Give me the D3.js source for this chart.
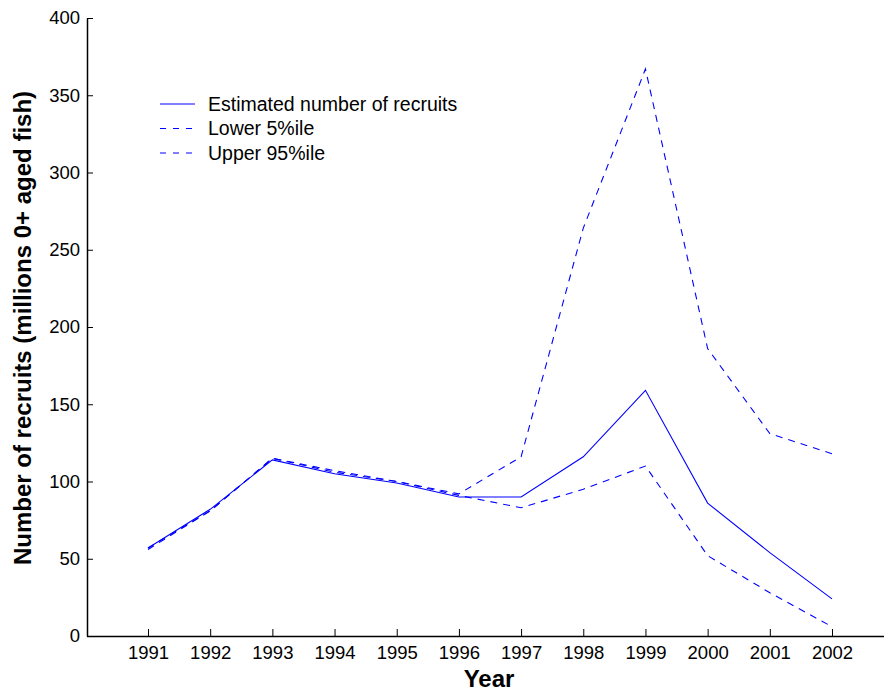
<!DOCTYPE html>
<html>
<head>
<meta charset="utf-8">
<script src="https://cdn.jsdelivr.net/npm/d3@7"></script>
<style>
  html, body { margin: 0; padding: 0; background: #fff; }
  svg { display: block; font-family: "Liberation Sans", Arial, sans-serif; }
</style>
</head>
<body>
<svg id="chart" width="885" height="694"></svg>
<script>
// Recruitment estimates with 5% / 95% bounds
const years = [1991, 1992, 1993, 1994, 1995, 1996, 1997, 1998, 1999, 2000, 2001, 2002];
const estimated = [57, 82, 114, 105, 99, 90, 90, 116, 159, 86, 54, 24];
const lower5 = [56, 81, 115, 106, 100, 91, 83, 95, 110, 52, 28, 6];
const upper95 = [57, 81, 115, 107, 100, 92, 116, 264, 367, 186, 131, 118];
const yTicks = [0, 50, 100, 150, 200, 250, 300, 350, 400];
const legendLabels = ["Estimated number of recruits", "Lower 5%ile", "Upper 95%ile"];

const svg = d3.select("#chart");
const plotLeft = 87, plotRight = 884, plotTop = 18, plotBottom = 636;
const color = "#0000ff";

const x = d3.scaleLinear().domain([1991, 2002]).range([148, 832]);
const y = d3.scaleLinear().domain([0, 400]).range([plotBottom, plotTop]);

// axes (ticks pointing inward)
const xAxis = d3.axisBottom(x).tickValues(years).tickFormat(d3.format("d"))
  .tickSizeInner(-7).tickSizeOuter(0).tickPadding(10);
const gx = svg.append("g").attr("transform", `translate(0,${plotBottom})`).call(xAxis);
gx.select(".domain").attr("d", `M${plotLeft},0.5H${plotRight}`);

const yAxis = d3.axisLeft(y).tickValues(yTicks)
  .tickSizeInner(-6).tickSizeOuter(0).tickPadding(7);
const gy = svg.append("g").attr("transform", `translate(${plotLeft},0)`).call(yAxis);

[gx, gy].forEach(g => {
  g.select(".domain").attr("stroke", "#000").attr("stroke-width", 1.5);
  g.selectAll(".tick line").attr("stroke", "#000").attr("stroke-width", 1);
  g.selectAll(".tick text").attr("font-size", 18.5).attr("fill", "#000")
    .attr("font-family", "'Liberation Sans', Arial, sans-serif");
});

// series lines
const line = d3.line().x((d, i) => x(years[i])).y(d => y(d));
const series = [
  { values: estimated, dash: null },
  { values: lower5, dash: "7,6" },
  { values: upper95, dash: "7,6" }
];
series.forEach(s => {
  svg.append("path").datum(s.values)
    .attr("d", line)
    .attr("fill", "none")
    .attr("stroke", color)
    .attr("stroke-width", 1.1)
    .attr("stroke-dasharray", s.dash);
});

// legend
const lg = svg.append("g").attr("transform", "translate(160,104)");
legendLabels.forEach((label, i) => {
  const row = lg.append("g").attr("transform", `translate(0,${i * 24.5})`);
  row.append("line").attr("x1", 0).attr("x2", 35).attr("y1", 0).attr("y2", 0)
    .attr("stroke", color).attr("stroke-width", 1.1)
    .attr("stroke-dasharray", i === 0 ? null : "6,7");
  row.append("text").attr("x", 48).attr("y", 6.5)
    .attr("font-size", 19.5).attr("fill", "#000").text(label);
});

// axis titles
svg.append("text").attr("x", 489).attr("y", 687)
  .attr("text-anchor", "middle").attr("font-size", 24).attr("font-weight", "bold")
  .text("Year");
svg.append("text")
  .attr("transform", "translate(31,328) rotate(-90)")
  .attr("text-anchor", "middle").attr("font-size", 24).attr("font-weight", "bold")
  .text("Number of recruits (millions 0+ aged fish)");
</script>
</body>
</html>
